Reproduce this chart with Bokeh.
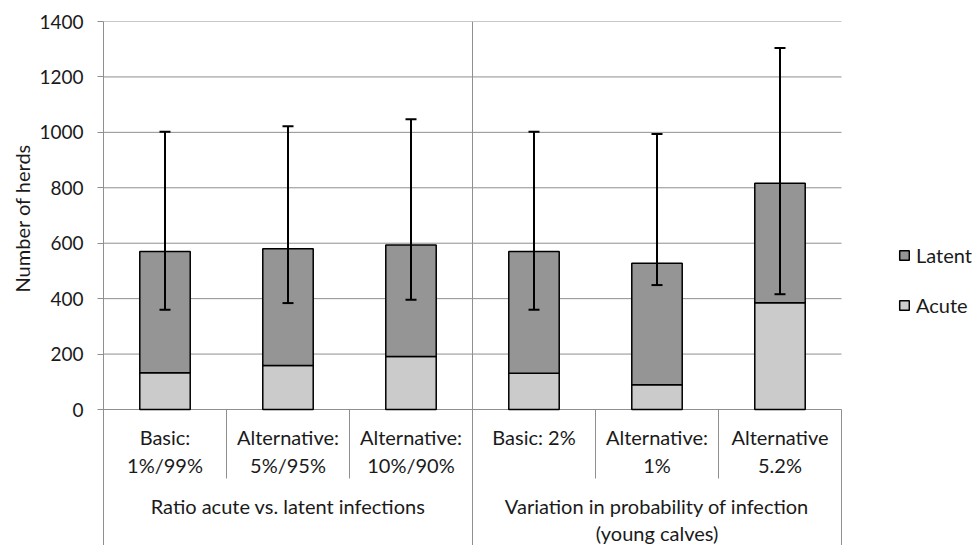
from bokeh.plotting import figure
from bokeh.models import (Range1d, FixedTicker, Legend, LegendItem, Whisker,
                          ColumnDataSource, TeeHead, Title)
from bokeh.core.properties import value
from bokeh.embed import file_html
from bokeh.resources import INLINE

# ---------------- data ----------------
categories = ["Basic:\n1%/99%", "Alternative:\n5%/95%", "Alternative:\n10%/90%",
              "Basic: 2%", "Alternative:\n1%", "Alternative\n5.2%"]
groups = ["Ratio acute vs. latent infections",
          "Variation in probability of infection\n(young calves)"]
group_sizes = [3, 3]
acute = [133, 159, 191, 131, 89, 385]
latent = [437, 421, 403, 439, 439, 431]
err_lower = [360, 384, 396, 360, 449, 416]
err_upper = [1002, 1022, 1047, 1002, 994, 1304]
y_ticks = [0, 200, 400, 600, 800, 1000, 1200, 1400]
y_label = "Number of herds"

# ---------------- styles ----------------
FONT = "Lato"
TXT = "#1a1a1a"
GRID = "#8f8f8f"
ACUTE_C = "#cbcbcb"
LATENT_C = "#959595"

W, H = 976, 545
FRAME_LEFT, CAT_RIGHT, FRAME_TOP = 103, 841, 21
ZERO_PX = 409            # pixel row of y=0 inside the figure
PX_PER_UNIT = (ZERO_PX - FRAME_TOP) / float(y_ticks[-1])
y_min = -(H - ZERO_PX) / PX_PER_UNIT


def px_below_zero(px):
    return -px / PX_PER_UNIT


n = len(categories)
xs = [i + 0.5 for i in range(n)]
totals = [a + l for a, l in zip(acute, latent)]
# the frame runs to the right edge so the legend can sit inside it
x_end = n * (W - FRAME_LEFT) / float(CAT_RIGHT - FRAME_LEFT)

p = figure(width=W, height=H, output_backend="svg", toolbar_location=None,
           x_range=Range1d(0, x_end), y_range=Range1d(y_min, y_ticks[-1]),
           x_axis_location=None,
           min_border_left=FRAME_LEFT, min_border_right=0,
           min_border_top=FRAME_TOP, min_border_bottom=0)
p.outline_line_color = None
p.background_fill_color = "white"
p.border_fill_color = "white"

# y axis
ya = p.yaxis[0]
ya.ticker = FixedTicker(ticks=y_ticks)
ya.major_tick_out = 6
ya.major_tick_in = 0
ya.minor_tick_line_color = None
ya.axis_line_color = GRID
ya.major_tick_line_color = GRID
ya.major_label_text_font = FONT
ya.major_label_text_font_size = "19px"
ya.major_label_text_color = TXT
ya.major_label_standoff = 14

p.xgrid.grid_line_color = None
p.ygrid.grid_line_color = None
# horizontal grid lines over the category span only
p.segment(x0=[0] * len(y_ticks), y0=y_ticks, x1=[n] * len(y_ticks), y1=y_ticks,
          line_color=GRID, line_width=1)

# y-axis title, placed beside the 0..1400 part of the axis
p.add_layout(Title(text=y_label, align="left", offset=H - 216 - 76,
                   text_font=FONT, text_font_size="20px", text_font_style="normal",
                   text_color=TXT, standoff=6), "left")

# separators of the category axis
sep_bottom = px_below_zero(69)
cut = []
acc = 0
for g in group_sizes[:-1]:
    acc += g
    cut.append(acc)
cat_sep = [i for i in range(1, n) if i not in cut]
p.segment(x0=cat_sep, y0=[0] * len(cat_sep), x1=cat_sep, y1=[sep_bottom] * len(cat_sep),
          line_color=GRID, line_width=1)
p.segment(x0=cut, y0=[y_ticks[-1]] * len(cut), x1=cut, y1=[y_min] * len(cut),
          line_color=GRID, line_width=1)
p.segment(x0=[n], y0=[0], x1=[n], y1=[y_min], line_color=GRID, line_width=1)

# bars
src = ColumnDataSource(dict(x=xs, acute=acute, total=totals, lo=err_lower, hi=err_upper))
r_acute = p.vbar(x="x", width=0.41, bottom=0, top="acute", source=src,
                 fill_color=ACUTE_C, line_color="black", line_width=1.5)
r_latent = p.vbar(x="x", width=0.41, bottom="acute", top="total", source=src,
                  fill_color=LATENT_C, line_color="black", line_width=1.5)

wk = Whisker(base="x", lower="lo", upper="hi", source=src, level="overlay",
             line_color="black", line_width=2,
             upper_head=TeeHead(size=11, line_color="black", line_width=2),
             lower_head=TeeHead(size=11, line_color="black", line_width=2))
p.add_layout(wk)

# category labels
p.text(x=xs, y=[px_below_zero(15)] * n, text=categories,
       text_font=value(FONT), text_font_size="20px", text_color=TXT,
       text_align="center", text_baseline="top", text_line_height=1.2)
gx = []
acc = 0
for g in group_sizes:
    gx.append(acc + g / 2.0)
    acc += g
p.text(x=gx, y=[px_below_zero(84)] * len(groups), text=groups,
       text_font=value(FONT), text_font_size="20px", text_color=TXT,
       text_align="center", text_baseline="top", text_line_height=1.15)

# legend
legend = Legend(items=[LegendItem(label="Latent", renderers=[r_latent]),
                       LegendItem(label="Acute", renderers=[r_acute])],
                location=(795, 228), orientation="vertical",
                glyph_width=12, glyph_height=12, label_standoff=6,
                label_height=20, spacing=26, padding=0, margin=0,
                label_text_font=FONT, label_text_font_size="20px",
                label_text_color=TXT, border_line_color=None,
                background_fill_alpha=0)
p.add_layout(legend)

open("out.html", "w").write(file_html(p, INLINE))
